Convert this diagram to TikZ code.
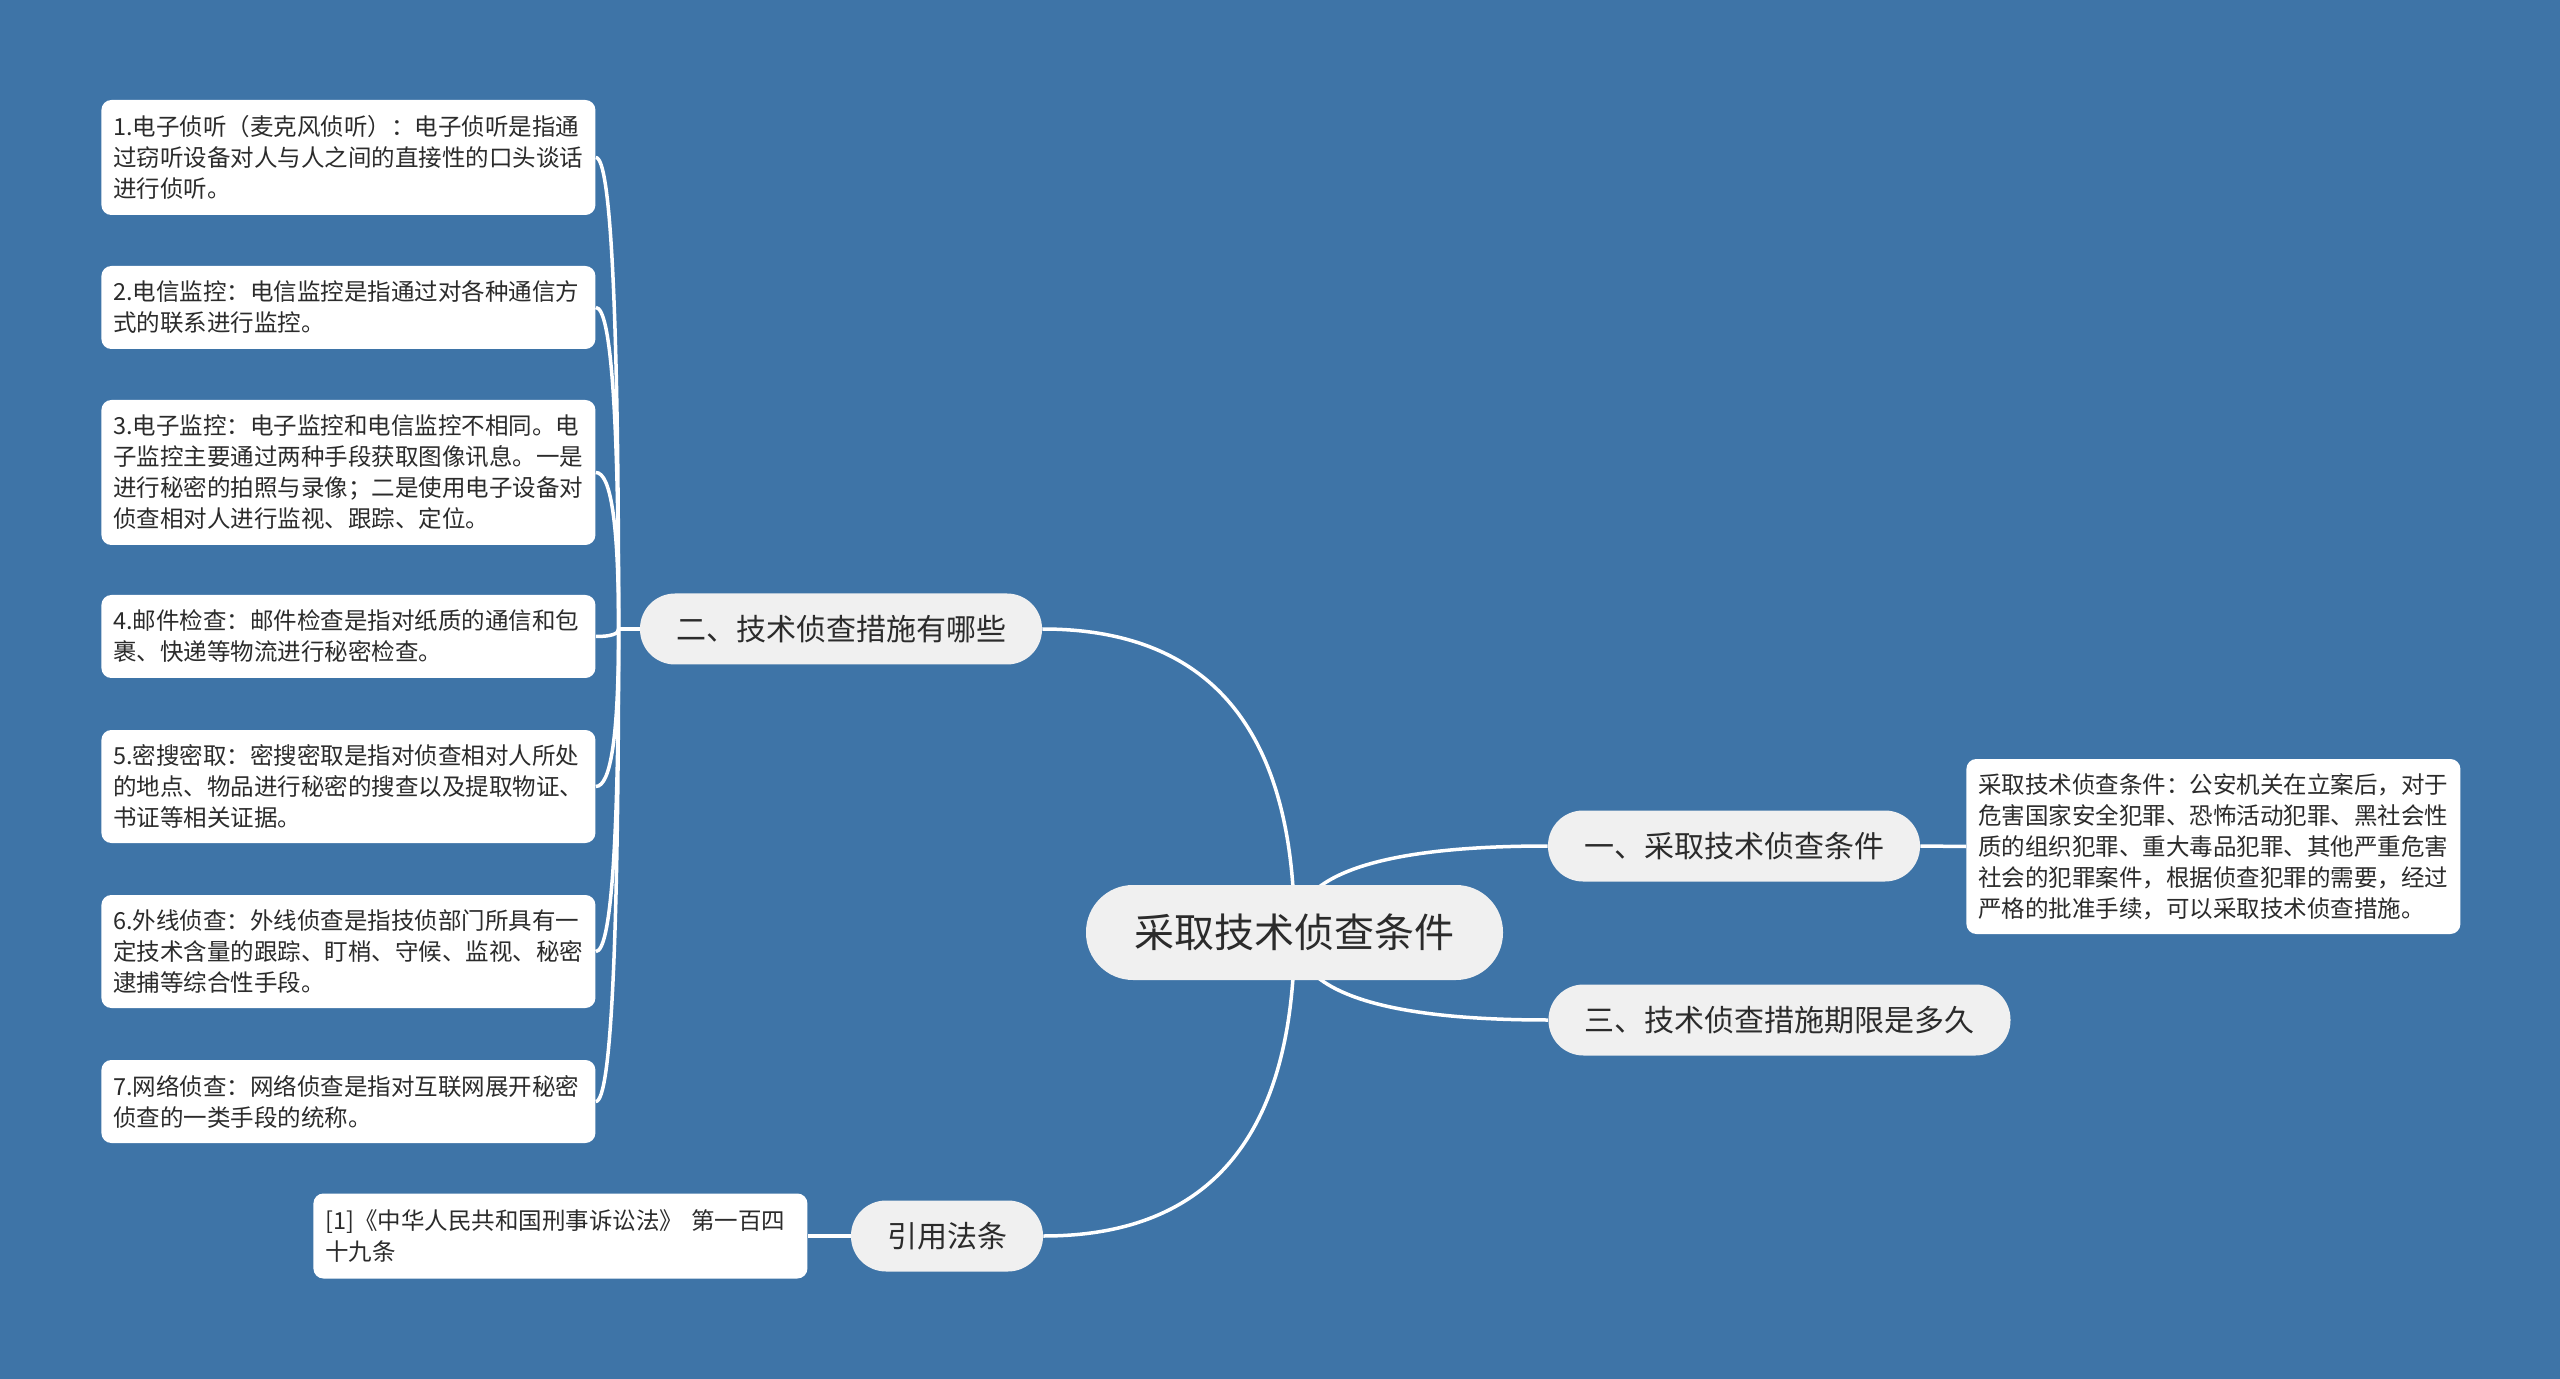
\documentclass[tikz,border=0pt]{standalone}
\usepackage{fontspec}
\setmainfont{Noto Sans CJK SC}
\usetikzlibrary{calc}
\pgfdeclarelayer{back}
\pgfdeclarelayer{wires}
\pgfsetlayers{back,wires,main}
\definecolor{bgblue}{HTML}{3E74A7}
\definecolor{pill}{HTML}{F0F0F0}
\definecolor{ink}{HTML}{2B2B2B}
\begin{document}
\begin{tikzpicture}[x=0.5pt,y=-0.5pt,
  leaf/.style={fill=white, rounded corners=5pt, text=ink, anchor=west, text width=235pt, inner xsep=6pt, inner ysep=0pt, align=left, font=\fontsize{11.75pt}{15.5pt}\selectfont, minimum width=247pt},
  branch/.style={fill=pill, rounded corners=17.5pt, text=ink, font=\fontsize{15pt}{18pt}\selectfont, minimum height=35.5pt, inner xsep=18pt, inner ysep=0pt},
  root/.style={fill=pill, rounded corners=23.5pt, text=ink, font=\fontsize{20pt}{24pt}\selectfont, minimum height=47.5pt, minimum width=208.5pt, inner ysep=0pt},
  wire/.style={draw=white, line width=1.75pt}]
\useasboundingbox (0,0) rectangle (2560,1379);
\begin{pgfonlayer}{back}
\fill[bgblue] (0,0) rectangle (2560,1379);
\end{pgfonlayer}

\node[root] (c) at (1294.5,932.5) {采取技术侦查条件};
\node[branch] (b2) at (841,629) {二、技术侦查措施有哪些};
\node[branch] (b1) at (1734,846) {一、采取技术侦查条件};
\node[branch] (b3) at (1779.5,1020) {三、技术侦查措施期限是多久};
\node[branch] (b4) at (947,1236) {引用法条};

\node[leaf, minimum height=57.5pt] (l1) at (101,157.5) {1.电子侦听（麦克风侦听）：电子侦听是指通\\过窃听设备对人与人之间的直接性的口头谈话\\进行侦听。};
\node[leaf, minimum height=41.5pt] (l2) at (101,307.5) {2.电信监控：电信监控是指通过对各种通信方\\式的联系进行监控。};
\node[leaf, minimum height=72.5pt] (l3) at (101,472.5) {3.电子监控：电子监控和电信监控不相同。电\\子监控主要通过两种手段获取图像讯息。一是\\进行秘密的拍照与录像；二是使用电子设备对\\侦查相对人进行监视、跟踪、定位。};
\node[leaf, minimum height=41.5pt] (l4) at (101,636.5) {4.邮件检查：邮件检查是指对纸质的通信和包\\裹、快递等物流进行秘密检查。};
\node[leaf, minimum height=56.5pt] (l5) at (101,786.5) {5.密搜密取：密搜密取是指对侦查相对人所处\\的地点、物品进行秘密的搜查以及提取物证、\\书证等相关证据。};
\node[leaf, minimum height=56.5pt] (l6) at (101,951.5) {6.外线侦查：外线侦查是指技侦部门所具有一\\定技术含量的跟踪、盯梢、守候、监视、秘密\\逮捕等综合性手段。};
\node[leaf, minimum height=41.5pt] (l7) at (101,1101.5) {7.网络侦查：网络侦查是指对互联网展开秘密\\侦查的一类手段的统称。};

\node[leaf, minimum height=87.5pt] (r1) at (1966,846.5) {采取技术侦查条件：公安机关在立案后，对于\\危害国家安全犯罪、恐怖活动犯罪、黑社会性\\质的组织犯罪、重大毒品犯罪、其他严重危害\\社会的犯罪案件，根据侦查犯罪的需要，经过\\严格的批准手续，可以采取技术侦查措施。};
\node[leaf, minimum height=42.5pt] (cite) at (313,1236) {[1]《中华人民共和国刑事诉讼法》 第一百四\\十九条};

\coordinate (sp) at ($(b2.west)+(-21,0)$);

\begin{pgfonlayer}{wires}
\foreach \n in {l1,l2,l3,l4,l5,l6,l7}{
  \draw[wire] (sp) .. controls ($(sp)!2/3!(sp |- \n.east)$) and ($(\n.east)!2/3!(sp |- \n.east)$) .. (\n.east);
}
\draw[wire] (b2.west) -- (sp);
\draw[wire] (b2.east) .. controls ($(b2.east)!2/3!(c.center |- b2.east)$) and ($(c.center)!2/3!(c.center |- b2.east)$) .. (c.center);
\draw[wire] (b4.east) .. controls ($(b4.east)!2/3!(c.center |- b4.east)$) and ($(c.center)!2/3!(c.center |- b4.east)$) .. (c.center);
\draw[wire] (c.center) .. controls ($(c.center)!2/3!(c.center |- b1.west)$) and ($(b1.west)!2/3!(c.center |- b1.west)$) .. (b1.west);
\draw[wire] (c.center) .. controls ($(c.center)!2/3!(c.center |- b3.west)$) and ($(b3.west)!2/3!(c.center |- b3.west)$) .. (b3.west);
\draw[wire] (b1.east) -- (r1.west);
\draw[wire] (b4.west) -- (cite.east);
\end{pgfonlayer}
\end{tikzpicture}
\end{document}
